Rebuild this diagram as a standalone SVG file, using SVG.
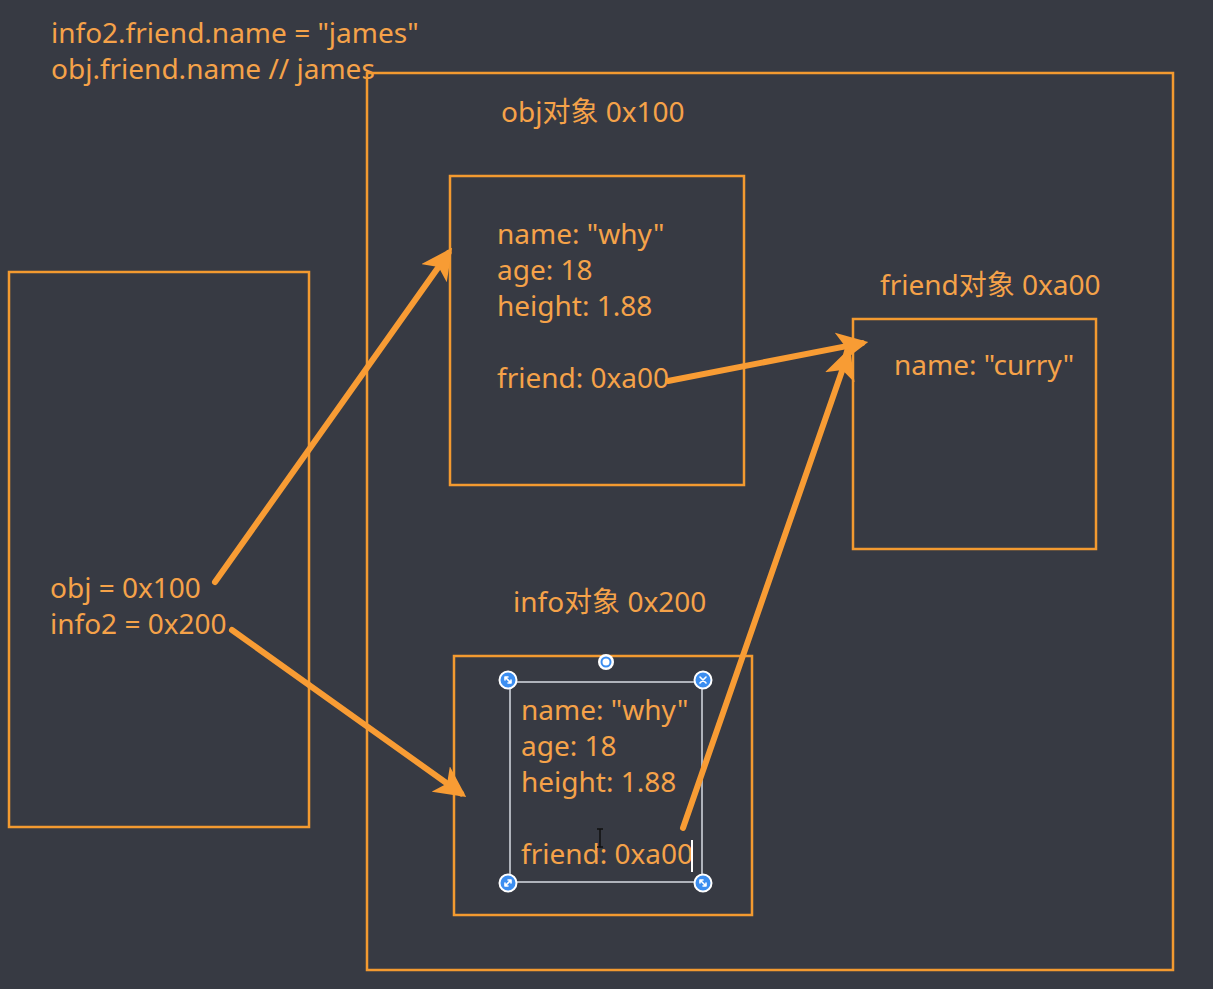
<svg xmlns="http://www.w3.org/2000/svg" width="1213" height="989" viewBox="0 0 1213 989">
  <style>
    .box { fill: none; stroke: #f39a30; stroke-width: 2.5; }
    .t { font-family: "Noto Sans", "Noto Sans CJK SC", sans-serif; font-size: 28px; fill: #f5a249; }
    .arrow { fill: none; stroke: #f89c34; stroke-width: 6; stroke-linecap: round; marker-end: url(#head); }
    .handle { fill: #3c8ef0; stroke: #ffffff; stroke-width: 2; }
    .glyph { fill: none; stroke: #ffffff; stroke-width: 1.6; stroke-linecap: round; }
  </style>
  <defs>
    <marker id="head" viewBox="0 0 10 10" refX="8" refY="5" markerWidth="5.2" markerHeight="5.2" orient="auto" markerUnits="strokeWidth">
      <path d="M0,0 L10,5 L0,10 L2.5,5 z" fill="#f89c34"/>
    </marker>
  </defs>

  <!-- background -->
  <rect x="0" y="0" width="1213" height="989" fill="#373a43"/>

  <!-- code notes -->
  <g id="notes">
    <text class="t" x="51" y="43">info2.friend.name = "james"</text>
    <text class="t" x="51" y="79">obj.friend.name // james</text>
  </g>

  <!-- stack frame -->
  <g id="stack">
    <rect class="box" x="9" y="272" width="300" height="555"/>
    <text class="t" x="50" y="598">obj = 0x100</text>
    <text class="t" x="50" y="634">info2 = 0x200</text>
  </g>

  <!-- heap -->
  <g id="heap">
    <rect class="box" x="367" y="73" width="806" height="897"/>
  </g>

  <g id="obj">
    <text class="t" x="501" y="122">obj对象 0x100</text>
    <rect class="box" x="450" y="176" width="294" height="309"/>
    <text class="t" x="497" y="244">name: "why"</text>
    <text class="t" x="497" y="280">age: 18</text>
    <text class="t" x="497" y="316">height: 1.88</text>
    <text class="t" x="497" y="388">friend: 0xa00</text>
  </g>

  <g id="friend">
    <text class="t" x="880" y="295">friend对象 0xa00</text>
    <rect class="box" x="853" y="319" width="243" height="230"/>
    <text class="t" x="894" y="375">name: "curry"</text>
  </g>

  <g id="info">
    <text class="t" x="513" y="612">info对象 0x200</text>
    <rect class="box" x="454" y="656" width="298" height="259"/>
    <text class="t" x="521" y="720">name: "why"</text>
    <text class="t" x="521" y="756">age: 18</text>
    <text class="t" x="521" y="792">height: 1.88</text>
    <text class="t" x="521" y="864">friend: 0xa00</text>
  </g>

  <!-- text box selection frame -->
  <g id="selection">
    <rect x="510" y="682" width="192" height="200" fill="none" stroke="#d8dce4" stroke-width="1.5"/>
    <circle class="handle" cx="508" cy="680" r="8.5"/>
    <path class="glyph" d="M505,677 L511,683 M505,677 h3 M505,677 v3 M511,683 h-3 M511,683 v-3"/>
    <circle class="handle" cx="703" cy="680" r="8.5"/>
    <path class="glyph" d="M700,677 L706,683 M706,677 L700,683"/>
    <circle class="handle" cx="508" cy="883" r="8.5"/>
    <path class="glyph" d="M511,880 L505,886 M511,880 h-3 M511,880 v3 M505,886 h3 M505,886 v-3"/>
    <circle class="handle" cx="703" cy="883" r="8.5"/>
    <path class="glyph" d="M700,880 L706,886 M700,880 h3 M700,880 v3 M706,886 h-3 M706,886 v-3"/>
    <circle cx="606" cy="662" r="8" fill="#ffffff"/>
    <circle cx="606" cy="662" r="4.5" fill="none" stroke="#3c8ef0" stroke-width="2"/>
    <line x1="692" y1="840" x2="692" y2="872" stroke="#ffffff" stroke-width="2"/>
    <path d="M597,829 h6 M600,829 v18 M597,847 h6" stroke="#111" stroke-width="1.5" fill="none"/>
  </g>

  <!-- references -->
  <g id="connectors">
    <path class="arrow" d="M215,582 L448.5,252.9"/>
    <path class="arrow" d="M232,630 L461.1,793.5"/>
    <path class="arrow" d="M668,381 L862.1,343.1"/>
    <path class="arrow" d="M683,828 L848,353.7"/>
  </g>
</svg>
